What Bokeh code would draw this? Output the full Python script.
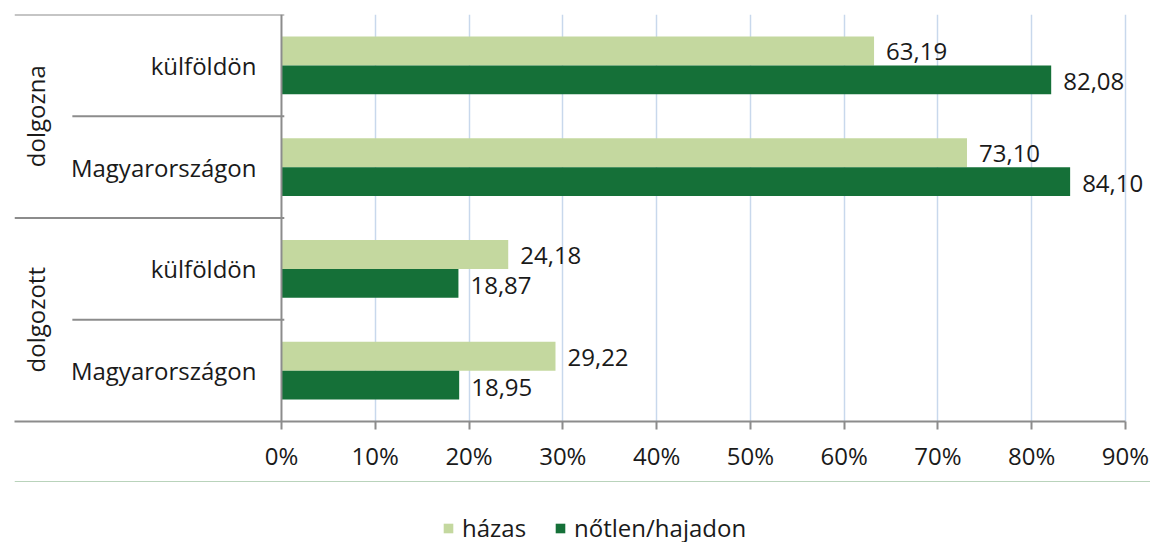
import math
from bokeh.plotting import figure
from bokeh.layouts import column
from bokeh.models import Range1d, FixedTicker, PrintfTickFormatter, Legend, LegendItem
from bokeh.embed import file_html
from bokeh.resources import INLINE
from bokeh.core.properties import value

# ---- data ----
groups = ["dolgozna", "dolgozna", "dolgozott", "dolgozott"]
places = ["külföldön", "Magyarországon", "külföldön", "Magyarországon"]
hazas = [63.19, 73.10, 24.18, 29.22]
notlen = [82.08, 84.10, 18.87, 18.95]
series_names = ["házas", "nőtlen/hajadon"]
x_ticks = [0, 10, 20, 30, 40, 50, 60, 70, 80, 90]

# ---- style ----
FONT = "Open Sans"
FS = "24px"
TXT = "#1a1a1a"
C_LIGHT = "#c4d89f"
C_DARK = "#157038"
GRID = "#c8d8ec"
AX = "#8c8c8c"
XMIN = -28.47
XMAX = 92.67
XSUB = -22.3
BAR_H = 0.285


def fmt(v):
    return f"{v:.2f}".replace(".", ",")


n = len(places)
centers = [i + 0.5 for i in range(n)]
light_y = [c - BAR_H / 2 for c in centers]
dark_y = [c + BAR_H / 2 for c in centers]

p = figure(frame_width=1136, frame_height=407, output_backend="svg", toolbar_location=None,
           x_range=Range1d(XMIN, XMAX), y_range=Range1d(n, 0),
           min_border_left=14, min_border_right=0, min_border_top=14, min_border_bottom=60)
p.outline_line_color = None
p.yaxis.visible = False
p.ygrid.visible = False

p.xgrid.ticker = FixedTicker(ticks=x_ticks[1:])
p.xgrid.grid_line_color = GRID
p.xgrid.grid_line_width = 1.5

ax = p.xaxis[0]
ax.ticker = FixedTicker(ticks=x_ticks)
ax.bounds = (XMIN, x_ticks[-1])
ax.formatter = PrintfTickFormatter(format="%d%%")
ax.axis_line_color = AX
ax.axis_line_width = 2
ax.major_tick_line_color = AX
ax.major_tick_line_width = 2
ax.major_tick_in = 0
ax.major_tick_out = 8
ax.minor_tick_line_color = None
ax.major_label_text_font = FONT
ax.major_label_text_font_size = FS
ax.major_label_text_color = TXT
ax.major_label_standoff = 9

p.hbar(y=light_y, left=0, right=hazas, height=BAR_H, fill_color=C_LIGHT, line_color=None)
p.hbar(y=dark_y, left=0, right=notlen, height=BAR_H, fill_color=C_DARK, line_color=None)

p.text(x=hazas, y=light_y, text=[fmt(v) for v in hazas], x_offset=12, y_offset=1,
       text_align="left", text_baseline="middle", text_font=value(FONT),
       text_font_size=FS, text_color=TXT)
p.text(x=notlen, y=dark_y, text=[fmt(v) for v in notlen], x_offset=12, y_offset=2,
       text_align="left", text_baseline="middle", text_font=value(FONT),
       text_font_size=FS, text_color=TXT)

# category labels
p.text(x=[0] * n, y=centers, text=places, x_offset=-25,
       text_align="right", text_baseline="middle", text_font=value(FONT),
       text_font_size=FS, text_color=TXT)

# group labels
ugroups = []
for g in groups:
    if g not in ugroups:
        ugroups.append(g)
gcent = []
for g in ugroups:
    idx = [i for i, gg in enumerate(groups) if gg == g]
    gcent.append((min(idx) + max(idx) + 1) / 2)
p.text(x=[XMIN] * len(ugroups), y=gcent, text=ugroups, x_offset=21, angle=math.pi / 2,
       text_align="center", text_baseline="middle", text_font=value(FONT),
       text_font_size=FS, text_color=TXT)

# separators
sx0, sy = [], []
for i in range(n):
    first_in_group = (i == 0) or groups[i] != groups[i - 1]
    sx0.append(XMIN if first_in_group else XSUB)
    sy.append(i)
p.segment(x0=sx0, y0=sy, x1=[0.3] * n, y1=sy, line_color=AX, line_width=2)
p.segment(x0=[0], y0=[0], x1=[0], y1=[n], line_color=AX, line_width=2)

# ---- legend strip (swatches drawn off-range, only the legend shows) ----
pl = figure(width=1150, height=80, output_backend="svg", toolbar_location=None,
            min_border_left=0, min_border_right=0, min_border_top=0, min_border_bottom=0,
            x_range=Range1d(0, 1), y_range=Range1d(0, 1))
pl.axis.visible = False
pl.grid.visible = False
pl.outline_line_color = None
lr1 = pl.hbar(y=[10], left=[0], right=[1], height=0.5, fill_color=C_LIGHT, line_color=None)
lr2 = pl.hbar(y=[10], left=[0], right=[1], height=0.5, fill_color=C_DARK, line_color=None)
legend = Legend(items=[LegendItem(label=series_names[0], renderers=[lr1]),
                       LegendItem(label=series_names[1], renderers=[lr2])],
                orientation="horizontal", location=(428, 17),
                glyph_width=12, glyph_height=12, label_standoff=8, spacing=28,
                padding=0, margin=0, border_line_color=None, background_fill_alpha=0,
                label_text_font=FONT, label_text_font_size=FS, label_text_color=TXT)
pl.add_layout(legend)

open("out.html", "w").write(file_html(column(p, pl, spacing=0), INLINE))
